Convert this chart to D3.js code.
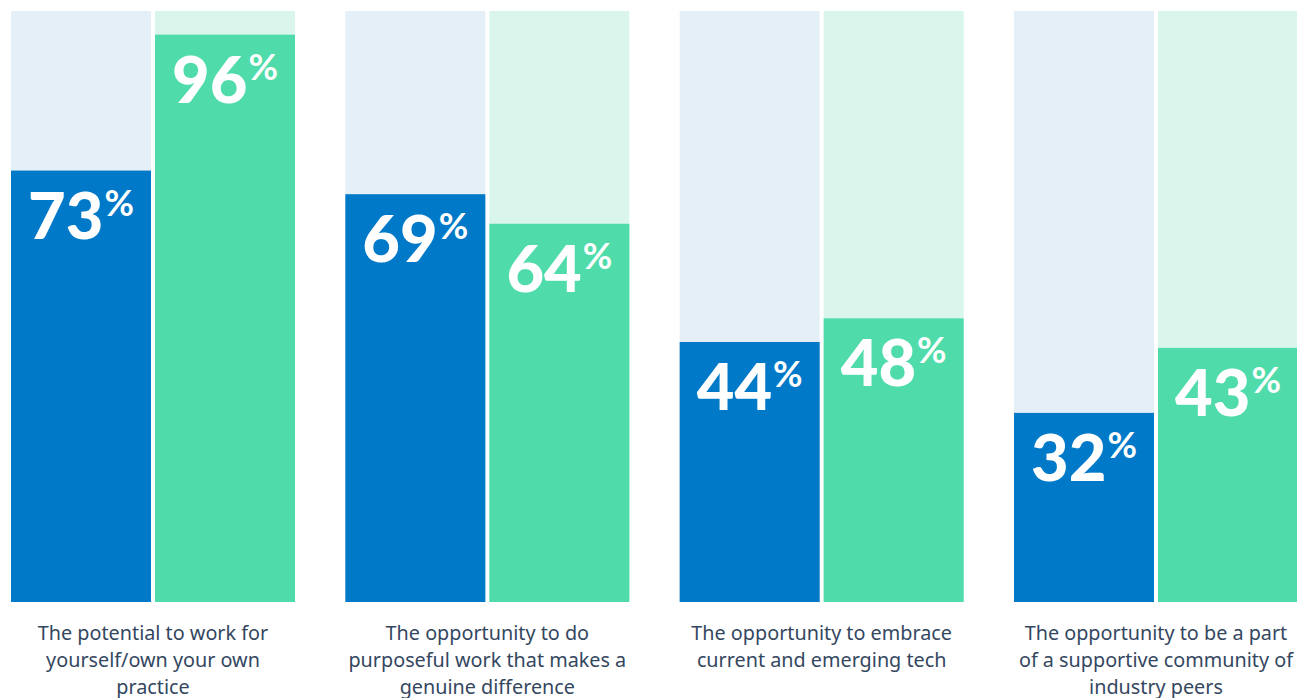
<!DOCTYPE html>
<html>
<head>
<meta charset="utf-8">
<script src="https://cdn.jsdelivr.net/npm/d3@7"></script>
<style>
  html, body { margin: 0; padding: 0; background: #ffffff; }
  svg { display: block; }
</style>
</head>
<body>
<svg id="chart" width="1297" height="698"></svg>
<script>
// Category labels, each split into its display lines
const categories = [
  ["The potential to work for", "yourself/own your own", "practice"],
  ["The opportunity to do", "purposeful work that makes a", "genuine difference"],
  ["The opportunity to embrace", "current and emerging tech"],
  ["The opportunity to be a part", "of a supportive community of", "industry peers"]
];
const seriesKeys = ["first", "second"];
const firstValues = [73, 69, 44, 32];
const secondValues = [96, 64, 48, 43];

const colors = {
  first: "#0079c8",
  firstTrack: "#e5eff8",
  second: "#50dcaa",
  secondTrack: "#daf5ec",
  label: "#34475f"
};

const svg = d3.select("#chart");
const plotTop = 11, plotBottom = 602;

const x0 = d3.scaleBand()
  .domain(d3.range(categories.length))
  .range([11, 1298])
  .paddingInner(0.1505)
  .paddingOuter(0);

const x1 = d3.scaleBand()
  .domain(seriesKeys)
  .range([0, x0.bandwidth()])
  .paddingInner(4 / 144);

const y = d3.scaleLinear().domain([0, 100]).range([plotBottom, plotTop]);

const rows = categories.map((c, i) => ({
  i,
  lines: c,
  values: [
    { key: "first", value: firstValues[i] },
    { key: "second", value: secondValues[i] }
  ]
}));

const groups = svg.selectAll("g.group")
  .data(rows)
  .join("g")
  .attr("class", "group")
  .attr("transform", d => `translate(${x0(d.i)},0)`);

const bars = groups.selectAll("g.bar")
  .data(d => d.values)
  .join("g")
  .attr("class", "bar");

// full-height track behind each bar
bars.append("rect")
  .attr("x", d => x1(d.key))
  .attr("width", x1.bandwidth())
  .attr("y", y(100))
  .attr("height", y(0) - y(100))
  .attr("fill", d => d.key === "first" ? colors.firstTrack : colors.secondTrack);

bars.append("rect")
  .attr("x", d => x1(d.key))
  .attr("width", x1.bandwidth())
  .attr("y", d => y(d.value))
  .attr("height", d => y(0) - y(d.value))
  .attr("fill", d => d.key === "first" ? colors.first : colors.second);

// value labels inside bars
const vlabel = bars.append("text")
  .attr("x", d => x1(d.key) + x1.bandwidth() / 2)
  .attr("y", d => y(d.value) + 68)
  .attr("text-anchor", "middle")
  .attr("fill", "#ffffff")
  .style("font-family", "Lato, 'Noto Sans', sans-serif")
  .style("font-weight", 900);

vlabel.append("tspan")
  .style("font-size", "65px")
  .text(d => d.value);
vlabel.append("tspan")
  .attr("dy", -23)
  .attr("dx", 1)
  .style("font-size", "36px")
  .style("font-weight", 700)
  .text("%");

// category labels
groups.append("text")
  .attr("x", x0.bandwidth() / 2)
  .attr("text-anchor", "middle")
  .attr("fill", colors.label)
  .style("font-family", "'Noto Sans', sans-serif")
  .style("font-size", "19.8px")
  .selectAll("tspan")
  .data(d => d.lines)
  .join("tspan")
  .attr("x", x0.bandwidth() / 2)
  .attr("y", (d, i) => 640 + i * 27)
  .text(d => d);
</script>
</body>
</html>
